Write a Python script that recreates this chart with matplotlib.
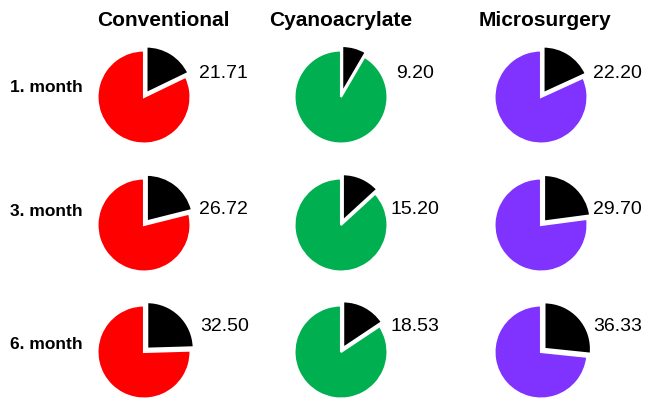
import matplotlib
matplotlib.use("Agg")
import matplotlib.pyplot as plt

# ---- data ----
groups = ["Conventional", "Cyanoacrylate", "Microsurgery"]
timepoints = ["1. month", "3. month", "6. month"]
conventional = [21.71, 26.72, 32.50]
cyanoacrylate = [9.20, 15.20, 18.53]
microsurgery = [22.20, 29.70, 36.33]
values = [conventional, cyanoacrylate, microsurgery]
reference_slice = 100.0
colors = ["#FF0000", "#00B050", "#8033FF"]

# ---- layout (pixels) ----
W, H = 647, 402
col_cx = [144, 341, 541]
row_cy = [98, 226, 353]
R = 46.5
label_dx = [[55, 55, 52], [55, 49, 52], [56, 49, 52]]  # per row, per col (left edge offset)
label_dy = [-24, -16, -26]
rowlab_y = [88, 212, 345]
font = "Liberation Sans"

fig = plt.figure(figsize=(W / 100, H / 100), dpi=100)
fig.patch.set_facecolor("white")

S = 130
L = S / (2 * R)
for c, grp in enumerate(groups):
    for r, tp in enumerate(timepoints):
        cx, cy = col_cx[c], row_cy[r]
        ax = fig.add_axes([(cx - S / 2) / W, (H - cy - S / 2) / H, S / W, S / H])
        v = values[c][r]
        ax.pie([v, reference_slice], colors=["black", colors[c]], startangle=90,
               counterclock=False, explode=[0.1, 0], radius=1,
               wedgeprops=dict(edgecolor="white", linewidth=1.5))
        ax.set_xlim(-L, L)
        ax.set_ylim(-L, L)
        ax.set_aspect("equal")
        ax.axis("off")
        fig.text((cx + label_dx[r][c]) / W, (H - (cy + label_dy[r])) / H,
                 f"{v:.2f}", ha="left", va="center", fontsize=14,
                 family=font, color="black")

title_cx = [163, 341, 545]
for c, grp in enumerate(groups):
    fig.text(title_cx[c] / W, (H - 20) / H, grp, ha="center", va="center",
             fontsize=15, fontweight="bold", family=font)

for r, tp in enumerate(timepoints):
    fig.text(10 / W, (H - rowlab_y[r]) / H, tp, ha="left", va="center",
             fontsize=12.5, fontweight="bold", family=font)

fig.savefig("out.png", dpi=100, facecolor="white")
